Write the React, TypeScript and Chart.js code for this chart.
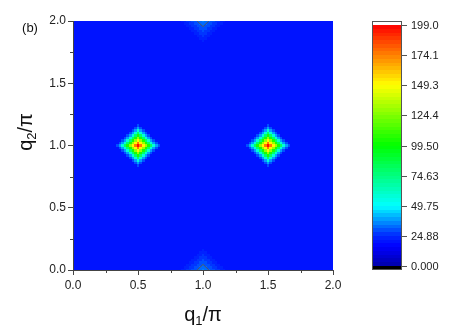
import React, { useEffect, useRef } from 'react';
import { Chart, registerables } from 'chart.js';

Chart.register(...registerables);

// ---- data ----
const xTickValues = [0, 0.5, 1, 1.5, 2];
const yTickValues = [0, 0.5, 1, 1.5, 2];
const minorTickValues = [0.25, 0.75, 1.25, 1.75];
const cbTickValues = [0, 24.88, 49.75, 74.63, 99.5, 124.4, 149.3, 174.1, 199.0];
const cbTickLabels = ['0.000', '24.88', '49.75', '74.63', '99.50', '124.4', '149.3', '174.1', '199.0'];
const zMin = 0;
const zMax = 199;
const cbMin = -3.3;
const cbMax = 202.3;
const gridStep = 0.02;
const gridCount = 101;
// main peaks (diamond shaped), value by L1 ring index (step = gridStep)
const peakX = [0.5, 1.5];
const peakY = [1.0, 1.0];
const peakProfile = [199, 176, 152, 128, 104, 80, 58, 40, 30];
// weak features on the top/bottom edges at q1 = 1
const edgeX = [1.0, 1.0];
const edgeY = [0.0, 2.0];
const edgeProfile = [36, 34, 32, 30, 28, 26, 25, 24, 22, 21];
const edgeContourRadius = 0.045;
const background = 19;
// colour map
const colorStops = [0, 16, 24.88, 49.75, 99.5, 149.3, 199];
const colorStopRGB = [
  [0, 0, 170],
  [0, 0, 255],
  [0, 40, 255],
  [0, 255, 255],
  [0, 255, 0],
  [255, 255, 0],
  [255, 0, 0],
];
const levels = 64;

const FONT = '"Liberation Sans", Arial, Helvetica, sans-serif';

function buildGrid(): number[][] {
  const z: number[][] = [];
  const pk = peakX.map((px, n) => [Math.round(px / gridStep), Math.round(peakY[n] / gridStep)]);
  const ek = edgeX.map((ex, n) => [Math.round(ex / gridStep), Math.round(edgeY[n] / gridStep)]);
  for (let i = 0; i < gridCount; i++) {
    const col: number[] = [];
    for (let j = 0; j < gridCount; j++) {
      let v = background;
      for (const [a, b] of pk) {
        const k = Math.abs(i - a) + Math.abs(j - b);
        if (k < peakProfile.length) v = Math.max(v, peakProfile[k]);
      }
      for (const [a, b] of ek) {
        const k = Math.abs(i - a) + Math.abs(j - b);
        if (k < edgeProfile.length) v = Math.max(v, edgeProfile[k]);
      }
      col.push(v);
    }
    z.push(col);
  }
  return z;
}

function interpColor(v: number): string {
  if (v <= colorStops[0]) {
    const c = colorStopRGB[0];
    return `rgb(${c[0]},${c[1]},${c[2]})`;
  }
  for (let s = 1; s < colorStops.length; s++) {
    if (v <= colorStops[s]) {
      const t = (v - colorStops[s - 1]) / (colorStops[s] - colorStops[s - 1]);
      const a = colorStopRGB[s - 1];
      const b = colorStopRGB[s];
      const r = Math.round(a[0] + (b[0] - a[0]) * t);
      const g = Math.round(a[1] + (b[1] - a[1]) * t);
      const bl = Math.round(a[2] + (b[2] - a[2]) * t);
      return `rgb(${r},${g},${bl})`;
    }
  }
  const c = colorStopRGB[colorStopRGB.length - 1];
  return `rgb(${c[0]},${c[1]},${c[2]})`;
}

function levelColor(v: number): string {
  if (v < zMin) return '#000000';
  if (v > zMax) return '#ffffff';
  let b = Math.floor(((v - zMin) / (zMax - zMin)) * levels);
  if (b >= levels) b = levels - 1;
  const mid = zMin + ((b + 0.5) * (zMax - zMin)) / levels;
  return interpColor(mid);
}

function drawSubTitle(ctx: CanvasRenderingContext2D, main: string, sub: string, rest: string) {
  const big = `20px ${FONT}`;
  const small = `13px ${FONT}`;
  ctx.font = big;
  const w1 = ctx.measureText(main).width;
  const w3 = ctx.measureText(rest).width;
  ctx.font = small;
  const w2 = ctx.measureText(sub).width;
  const total = w1 + w2 + w3;
  let x = -total / 2;
  ctx.textAlign = 'left';
  ctx.textBaseline = 'alphabetic';
  ctx.font = big;
  ctx.fillText(main, x, 0);
  x += w1;
  ctx.font = small;
  ctx.fillText(sub, x, 4);
  x += w2;
  ctx.font = big;
  ctx.fillText(rest, x, 0);
}

const heatmapPlugin = {
  id: 'heatmapPlugin',
  beforeDraw(chart: any) {
    const { ctx, chartArea, scales } = chart;
    const xs = scales.x;
    const ys = scales.y;
    const z = buildGrid();
    ctx.save();
    ctx.beginPath();
    ctx.rect(chartArea.left, chartArea.top, chartArea.right - chartArea.left, chartArea.bottom - chartArea.top);
    ctx.clip();
    for (let i = 0; i < gridCount; i++) {
      const xa = Math.max(0, (i - 0.5) * gridStep);
      const xb = Math.min(2, (i + 0.5) * gridStep);
      const px0 = Math.round(xs.getPixelForValue(xa));
      const px1 = Math.round(xs.getPixelForValue(xb));
      for (let j = 0; j < gridCount; j++) {
        const ya = Math.max(0, (j - 0.5) * gridStep);
        const yb = Math.min(2, (j + 0.5) * gridStep);
        const py0 = Math.round(ys.getPixelForValue(ya));
        const py1 = Math.round(ys.getPixelForValue(yb));
        ctx.fillStyle = levelColor(z[i][j]);
        ctx.fillRect(px0, py1, px1 - px0, py0 - py1);
      }
    }
    ctx.restore();
  },
  afterDraw(chart: any) {
    const { ctx, chartArea, scales } = chart;
    const xs = scales.x;
    const ys = scales.y;
    const cb = scales.cb;
    ctx.save();

    // contour lines around the weak edge features
    ctx.save();
    ctx.beginPath();
    ctx.rect(chartArea.left, chartArea.top, chartArea.right - chartArea.left, chartArea.bottom - chartArea.top);
    ctx.clip();
    ctx.strokeStyle = 'rgba(85,85,85,0.95)';
    ctx.lineWidth = 1;
    edgeX.forEach((ex, n) => {
      const ey = edgeY[n];
      const r = edgeContourRadius;
      ctx.beginPath();
      ctx.moveTo(xs.getPixelForValue(ex - r), ys.getPixelForValue(ey));
      ctx.lineTo(xs.getPixelForValue(ex), ys.getPixelForValue(ey + r));
      ctx.lineTo(xs.getPixelForValue(ex + r), ys.getPixelForValue(ey));
      ctx.lineTo(xs.getPixelForValue(ex), ys.getPixelForValue(ey - r));
      ctx.closePath();
      ctx.stroke();
    });
    ctx.restore();

    // minor ticks
    ctx.strokeStyle = '#444';
    ctx.lineWidth = 1;
    minorTickValues.forEach((v) => {
      const px = Math.round(xs.getPixelForValue(v)) + 0.5;
      ctx.beginPath();
      ctx.moveTo(px, chartArea.bottom);
      ctx.lineTo(px, chartArea.bottom + 3);
      ctx.stroke();
      const py = Math.round(ys.getPixelForValue(v)) + 0.5;
      ctx.beginPath();
      ctx.moveTo(chartArea.left, py);
      ctx.lineTo(chartArea.left - 3, py);
      ctx.stroke();
    });

    // colour bar
    const cbLeft = Math.round(chartArea.right) + 39;
    const cbWidth = 30;
    const step = (zMax - zMin) / levels;
    for (let b = 0; b < levels; b++) {
      const v0 = zMin + b * step;
      const v1 = v0 + step;
      const y0 = Math.round(cb.getPixelForValue(v0));
      const y1 = Math.round(cb.getPixelForValue(v1));
      ctx.fillStyle = levelColor((v0 + v1) / 2);
      ctx.fillRect(cbLeft, y1, cbWidth, y0 - y1);
    }
    const yTop = Math.round(cb.getPixelForValue(cbMax));
    const yMaxV = Math.round(cb.getPixelForValue(zMax));
    const yMinV = Math.round(cb.getPixelForValue(zMin));
    const yBot = Math.round(cb.getPixelForValue(cbMin));
    ctx.fillStyle = '#ffffff';
    ctx.fillRect(cbLeft, yTop, cbWidth, yMaxV - yTop);
    ctx.fillStyle = '#000000';
    ctx.fillRect(cbLeft, yMinV, cbWidth, yBot - yMinV);
    ctx.strokeStyle = '#555';
    ctx.strokeRect(cbLeft + 0.5, yTop + 0.5, cbWidth - 1, yBot - yTop - 1);
    ctx.fillStyle = '#222';
    ctx.font = `11px ${FONT}`;
    ctx.textAlign = 'left';
    ctx.textBaseline = 'middle';
    cbTickValues.forEach((v, n) => {
      const py = Math.round(cb.getPixelForValue(v)) + 0.5;
      ctx.strokeStyle = '#555';
      ctx.beginPath();
      ctx.moveTo(cbLeft + cbWidth, py);
      ctx.lineTo(cbLeft + cbWidth + 5, py);
      ctx.stroke();
      ctx.fillText(cbTickLabels[n], cbLeft + cbWidth + 9, py);
    });

    // axis titles
    ctx.fillStyle = '#111';
    ctx.save();
    ctx.translate((chartArea.left + chartArea.right) / 2, 321);
    drawSubTitle(ctx, 'q', '1', '/\u03C0');
    ctx.restore();
    ctx.save();
    ctx.translate(32, 132);
    ctx.rotate(-Math.PI / 2);
    drawSubTitle(ctx, 'q', '2', '/\u03C0');
    ctx.restore();

    // panel label
    ctx.font = `13px ${FONT}`;
    ctx.textAlign = 'center';
    ctx.textBaseline = 'middle';
    ctx.fillText('(b)', 30, 28);

    ctx.restore();
  },
};

export default function App() {
  const canvasRef = useRef<HTMLCanvasElement | null>(null);

  useEffect(() => {
    if (!canvasRef.current) return;
    Chart.defaults.font.family = FONT;
    const tickFont = { size: 12, family: FONT };
    const chart = new Chart(canvasRef.current, {
      type: 'scatter',
      data: { datasets: [{ data: [], showLine: false }] },
      options: {
        animation: false,
        responsive: true,
        maintainAspectRatio: false,
        devicePixelRatio: 1,
        layout: { padding: { left: 0, top: 21, right: 130, bottom: 0 } },
        plugins: { legend: { display: false }, tooltip: { enabled: false }, title: { display: false } },
        events: [],
        scales: {
          x: {
            type: 'linear',
            position: 'bottom',
            min: 0,
            max: 2,
            afterFit: (s: any) => {
              s.height = 57;
            },
            afterBuildTicks: (s: any) => {
              s.ticks = xTickValues.map((v) => ({ value: v }));
            },
            ticks: {
              callback: (v: any) => Number(v).toFixed(1),
              font: tickFont,
              color: '#222',
              padding: 3,
              maxRotation: 0,
              autoSkip: false,
            },
            grid: { display: true, drawOnChartArea: false, drawTicks: true, tickLength: 5, color: '#444' },
            border: { display: true, color: '#444', width: 1 },
          },
          y: {
            type: 'linear',
            position: 'left',
            min: 0,
            max: 2,
            afterFit: (s: any) => {
              s.width = 73;
            },
            afterBuildTicks: (s: any) => {
              s.ticks = yTickValues.map((v) => ({ value: v }));
            },
            ticks: {
              callback: (v: any) => Number(v).toFixed(1),
              font: tickFont,
              color: '#222',
              padding: 2,
              autoSkip: false,
            },
            grid: { display: true, drawOnChartArea: false, drawTicks: true, tickLength: 5, color: '#444' },
            border: { display: true, color: '#444', width: 1 },
          },
          cb: {
            type: 'linear',
            position: 'right',
            display: false,
            min: cbMin,
            max: cbMax,
          },
        },
      },
      plugins: [heatmapPlugin],
    } as any);
    return () => chart.destroy();
  }, []);

  return (
    <div style={{ position: 'fixed', left: 0, top: 0, width: 463, height: 327, background: '#fff' }}>
      <canvas ref={canvasRef} />
    </div>
  );
}
